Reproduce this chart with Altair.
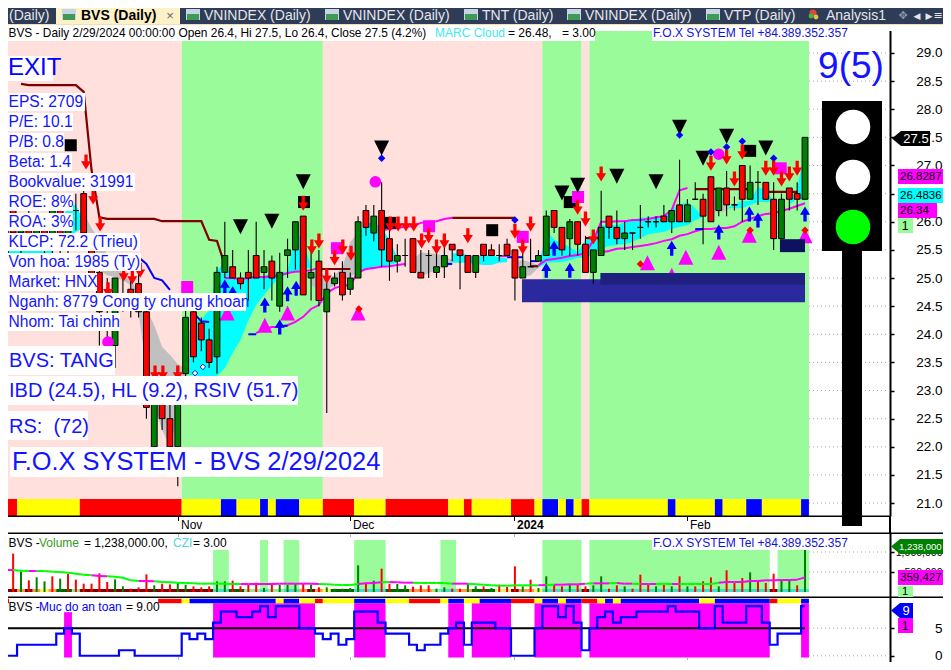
import altair as alt
import pandas as pd

# ---------------- values ----------------
opens  = [25.4,26.4,25.8,26.0,25.6,25.9,25.5,26.3,25.5,26.2,26.5,25.7,25.1,24.2,23.8,24.6,24.8,24.9,24.4,22.0,23.0,22.5,22.0,23.3,24.4,24.2,23.9,23.6,25.1,25.2,25.0,25.1,25.4,25.1,25.3,24.5,25.4,25.5,26.1,25.0,25.3,24.4,24.9,25.1,24.8,25.0,26.2,25.8,26.2,25.7,25.3,25.4,25.7,25.1,25.4,25.1,25.2,25.6,25.5,25.4,25.1,25.6,25.5,25.4,25.6,25.5,25.0,25.2,25.3,25.4,26.2,25.9,25.7,26.0,25.6,25.1,25.4,26.1,25.9,25.7,25.8,25.9,26.0,26.0,26.1,26.0,26.3,26.0,26.4,26.4,26.8,26.2,26.6,26.3,27.0,26.4,26.7,26.7,26.4,25.7,26.6,26.5,26.4]
highs  = [26.0,26.5,26.1,26.2,26.1,26.0,26.5,26.4,26.0,26.5,26.6,25.8,25.2,25.0,25.0,25.0,25.0,25.2,24.5,23.0,23.1,22.8,23.3,24.5,24.5,24.3,24.1,25.2,26.0,25.5,25.1,25.5,26.0,25.5,25.4,25.45,25.7,26.0,26.1,25.6,25.5,25.15,25.1,25.3,25.1,26.1,26.3,26.3,26.7,26.0,25.6,25.7,25.7,25.5,25.5,25.45,25.6,25.6,25.5,25.4,25.4,25.6,25.6,25.6,25.7,25.5,25.45,25.7,25.5,26.2,26.2,25.9,26.05,26.0,25.75,25.5,26.55,26.1,26.2,26.0,25.8,26.3,26.1,26.1,26.3,26.2,27.1,26.4,26.7,26.5,26.8,26.6,26.9,26.45,27.0,27.0,26.9,26.7,26.7,26.5,26.6,26.7,27.5]
lows   = [25.3,25.7,25.4,25.5,25.5,25.4,25.4,25.4,25.3,25.85,25.7,24.9,23.8,23.7,23.4,24.4,24.3,24.3,22.5,21.9,22.3,22.0,21.3,23.2,23.5,23.7,23.4,23.3,25.0,25.0,24.8,24.6,25.0,24.8,24.6,24.4,25.0,25.15,24.7,24.6,24.5,22.6,24.85,24.6,24.7,25.0,25.75,25.65,25.2,24.95,25.1,25.2,25.1,25.0,25.0,25.0,25.0,25.3,24.8,25.1,25.0,25.3,25.4,25.3,25.4,24.6,25.0,25.2,25.3,25.4,25.8,25.4,25.4,25.4,25.1,24.9,25.4,25.7,25.6,25.5,25.5,25.7,25.9,25.9,26.0,25.8,26.0,26.0,26.4,25.6,26.0,26.1,26.1,26.2,26.0,26.4,26.3,26.4,25.5,25.7,26.2,26.2,26.4]
closes = [25.9,25.8,26.0,25.6,25.9,25.5,26.4,25.5,25.9,26.2,25.8,25.0,24.4,24.2,25.0,24.6,24.6,24.4,22.7,22.9,22.5,22.0,23.0,24.3,23.6,23.9,23.5,25.1,25.4,25.0,24.9,25.0,25.0,25.2,25.0,25.1,25.5,26.0,24.7,25.1,24.6,24.8,25.0,24.7,25.0,26.0,25.9,26.1,25.5,25.3,25.4,25.4,25.1,25.0,25.4,25.2,25.4,25.5,25.4,25.1,25.4,25.4,25.4,25.4,25.4,25.0,25.2,25.2,25.4,26.1,25.9,25.5,26.0,25.6,25.1,25.5,25.9,25.9,25.7,25.8,25.8,25.9,26.0,26.0,26.0,26.2,26.0,26.3,26.4,26.1,26.0,26.6,26.3,26.3,26.4,26.7,26.7,26.4,25.7,26.4,26.4,26.4,27.5]

stop_runs = [
    (2,[28.45,28.43,28.43,28.43,28.43,28.43,28.43,28.43,28.31,26.92,26.08,26.05,26.05,26.05,26.05,26.05,26.05,26.05,26.01,26.01,26.01,26.01,26.01,26.01,25.68,25.66,25.23]),
    (40,[25.16,25.16,25.16,25.16,25.16]),
    (57,[26.07]*9),
    (67,[25.21,25.21]),
    (74,[25.71,25.71,25.71]),
    (88,[26.58]*8),
    (97,[26.53]*5),
]
magenta_runs = [
    (32,[24.02,24.09,24.13,24.13,24.16,24.22,24.31,24.45,24.52,24.73,24.82,24.86,24.88,25.1,25.16,25.18,25.2,25.21,25.23,25.25]),
    (28,[25.0,25.0,24.98,25.0,25.02,25.02,25.03,25.05,25.09,25.11,25.12,25.14,25.18]),
    (48,[25.85,25.87,25.89,25.91,25.92,25.98,26.0,26.01,26.05,26.07]),
    (63,[25.39,25.39]),
    (68,[25.23,25.32,25.34,25.36,25.39,25.41,25.44,25.67,26.0,26.0,26.01,26.01,26.03,26.03,26.05,26.08,26.1,26.21,26.56,26.6]),
    (76,[25.46,25.48,25.52,25.53,25.55,25.57,25.59,25.62,25.66,25.69,25.75,25.78,25.83,25.87,25.87,25.89,25.89,25.92,26.0,26.05,26.1,26.14,26.15,26.19,26.23,26.28,26.33]),
]
blue_runs = [
    (17,[25.37,25.25,25.0,24.96,24.79]),
    (24,[24.38,24.23,24.22]),
    (31,[24.0,24.0]),
    (35,[24.15,24.15]),
    (56,[25.25,25.25]),
    (64,[25.37,25.37,25.37]),
    (67,[25.3,25.3]),
    (88,[25.87,25.87]),
]
CY, GR = "#00ffff", "#c0c0c0"
cloud_groups = [
    (CY,0,[25.5,25.53,25.53,25.53,25.53,25.53,25.53,25.94,26.3,26.3,26.0],[25.43,25.43,25.43,25.43,25.43,25.43,25.43,25.71,25.71,25.82,25.9]),
    (GR,10,[26.15,25.89,25.68,25.41,25.23,25.1,24.96,24.75,24.46,24.16,23.78,23.63,23.47,23.38],[25.94,25.68,25.14,25.05,25.02,24.96,24.87,24.39,23.36,22.74,22.3,22.0,22.56,23.33]),
    (CY,23,[23.9,24.25,24.25,24.43,25.14,25.27,25.0,24.98,25.0,25.02,25.03,25.09,25.09,25.11,25.8,25.68,25.18],[23.29,23.27,23.24,23.24,23.26,23.4,23.67,23.9,24.25,24.52,24.7,24.87,25.0,25.07,25.11,25.18,25.18]),
    (GR,39,[25.03,25.03,24.96,25.05,25.19,25.64,25.8],[24.87,24.79,24.79,24.87,24.96,25.02,25.1]),
    (CY,45,[25.8,25.98,25.98,25.9,25.68,25.36],[25.14,25.14,25.18,25.2,25.23,25.27]),
    (GR,52,[25.32,25.46,25.44,25.43,25.39,25.32],[25.23,25.02,25.09,25.14,25.19,25.23]),
    (CY,57,[25.44,25.44,25.41,25.37,25.41,25.41,25.37,25.35],[25.27,25.27,25.27,25.25,25.23,25.23,25.27,25.28]),
    (GR,65,[25.3,25.32,25.28,25.23],[25.3,25.02,25.05,25.18]),
    (CY,68,[25.18,25.85,25.68,25.62,25.55,25.46,25.68,25.73,25.94,25.94,25.94,25.99,26.03,26.07,26.08,26.08,26.08,26.24,26.3,26.35,26.24,26.07],[25.18,25.27,25.28,25.28,25.32,25.36,25.36,25.42,25.53,25.57,25.59,25.6,25.64,25.71,25.78,25.8,25.82,25.87,25.91,25.94,26.03,26.08]),
    (GR,90,[26.39,26.56,26.39],[26.21,26.15,26.21]),
    (CY,92,[26.24,26.3,26.37,26.37,26.62,26.56,26.37],[26.24,26.24,26.24,26.3,26.35,26.35,26.35]),
    (CY,100,[26.35,26.58,27.3],[26.3,26.42,26.38]),
]
bg_starts = [0,23,41,69,74,75,103]
bg_colors = ["#ffe0dc","#99fb99","#ffe0dc","#99fb99","#ffe0dc","#99fb99"]
strip_starts = [0,2,10,23,28,30,33,34,35,38,41,45,49,57,59,60,65,68,69,71,72,73,74,75,85,86,91,92,95,97,102,103]
strip_colors = "r y r y b y b y b y r y r y r y r y b y b y r y b y b y b y b".split()
safe_strip_starts = [0,1,20,23,24,35,36,38,40,41,45,49,52,56,57,59,61,65,68,69,71,72,74,76,77,78,79,89,91,98,99,102,103]
safe_strip_colors = "r w r y b y b y r y b y r y b y b r y b y b r y b y b y b r y b".split()

tri_down = [(30,25.91),(34,26.01),(38,26.71),(48,27.31),(71,26.51),(73,26.65),(78,26.81),(83,26.71),(86,27.68),(89,27.13),(92,27.52),(97,27.31)]
sq_black = [(8.35,27.36),(38.1,26.35),(72,26.35),(95,27.26),(62.1,25.85),(49.1,25.98)]
sq_mag = [(54.05,25.92),(42.3,25.53),(73.05,26.44),(98.9,26.95),(66,25.73),(23.2,24.84)]
circ_mag = [(47.2,26.71),(91,27.2),(13.1,23.86)]
dia_blue = [(48,27.13),(65,26.03),(86,27.54),(90,27.24),(92,27.33),(94,27.43),(98,27.13)]
dia_red = [(95,25.85),(102,25.85),(81,25.25),(45.1,24.45)]
tri_up = [(33.1,24.16),(36,24.38),(45,24.38),(94.9,25.76),(102,25.75),(91,25.46),(86.8,25.37),(81.9,25.27),(85,25.05),(76.9,24.96),(28.3,24.38)]
arrows_down = [(10.3,27.06),(11.2,26.44),(12.1,25.96),(13.1,24.79),(15.1,25.07),(16.2,25.02),(17.2,25.14),(19.1,23.31),(20.1,23.31),(22,23.31),(38,26.33),(39.1,25.55),(40,25.66),(41,25.03),(42,25.36),(43.05,25.55),(44.1,25.44),(49.1,25.96),(50.1,25.96),(51.1,25.96),(52.1,25.96),(53.1,25.66),(54,25.75),(55,25.55),(56,25.66),(59,25.75),(65,25.83),(67,25.96),(66,25.55),(73,26.26),(74,26.05),(75,25.73),(76,26.85),(90,27.04),(92,27.15),(93,26.76),(94,27.24),(97,26.95),(98,26.95),(99,26.76),(100,26.85),(101,26.95)]
arrows_up = [(28,24.84),(29,24.72),(33.1,24.52),(35,24.13),(36,24.72),(37.1,24.82),(69,25.14),(72,25.14),(70,25.53),(85,25.53),(91,25.82),(94.9,26.14),(96,26.03),(102,26.14)]
hollow = [(24.2,23.31),(25.2,23.42)]
zones = [(65.9,102,24.98,24.57,"#2a2a9e"),(75.9,102,25.09,24.88,"#20207f"),(98.8,102,25.69,25.46,"#0e1060")]

volumes = [442,1130,609,344,432,314,462,393,531,364,246,246,550,295,373,167,98,138,521,197,246,226,265,216,167,138,167,314,314,334,167,216,275,118,246,216,216,246,246,216,138,138,98,98,118,786,275,334,688,246,236,197,157,197,197,98,138,98,98,236,167,167,118,216,147,757,167,364,118,462,216,167,216,216,167,197,462,98,197,167,98,511,216,167,216,167,462,167,167,314,432,167,639,265,413,580,314,265,540,364,364,197,1238]
vol_dirs = "g r g r g g r g r r r r r r g g r r r g r r g g r r r g g r r r r g r g g g r g r g g g g g r g r r g g r r r g g r r g g r g r r r g r g g r r g r r g g r r g r r r g r g r g r r r g r r r g r r r g g r g".split()
vol_ma = [648,648,629,619,619,619,599,590,570,540,511,491,472,462,452,422,344,324,324,314,295,285,275,265,255,246,246,246,246,236,236,236,236,236,236,246,246,246,246,246,236,226,216,206,206,236,255,265,285,295,285,275,275,265,265,265,265,246,246,246,226,216,197,187,187,197,197,197,197,206,216,216,226,226,246,255,255,255,265,246,246,236,236,236,246,236,236,236,236,236,236,275,295,295,295,324,324,344,344,354,354,364,432]
vol_ma_magenta = [0,3,11,12,17,18,30,31,32,33,34,35,36,37,38,39,45,46,47,49,50,51,57,58,68,70,71,72,73,75,76,78,79,81,82,85,91,92,93,94,95,96,97,98,99,100,101,102]
vol_green = [(27,29,1238),(33,34,1533),(36,38,1533),(45,49,1533),(56,58,1533),(69,74,1533),(75,98,1533),(99,103,1238)]
czi_starts = [0,2,3,4,5,6,7,9,10,27,29,31,33,34,36,38,39,40,41,42,45,49,52,55,56,58,60,63,65,66,68,69,74,75,98,99,103]
czi_colors = "dr or dr or ye or dg lg dr tq dg lg tq lg tq or dr or ye dg tq dg or lg tq or dg ly dr or ye tq dr tq dr tq".split()

safety = [0,0,2,2,2,2,2,4,5,4,0,0,0,0,0,1,1,0,0,0,0,0,0,4,3,4,3,6,8,8,7,7,8,9,7,9,9,9,5,5,4,3,4,2,3,8,8,8,6,4,4,4,2,1,2,2,4,5,6,2,6,6,6,5,5,0,0,0,5,9,9,7,9,6,1,5,7,8,6,7,7,8,8,8,8,9,8,8,8,5,5,9,6,6,6,9,9,6,2,4,4,4,9]
safe_bands = [(8,9,7.9),(27,40,9.5),(45,49,9.5),(57,59,9.5),(60,65,9.5),(68,74,9.5),(75,98,9.5),(102,103,9.5)]

price_ticks = [21.0,21.5,22.0,22.5,23.0,23.5,24.0,24.5,25.0,25.5,26.0,26.5,27.0,27.5,28.0,28.5,29.0]
vol_ticks = [500000,1000000]
safe_ticks = [0,5]
month_ticks = [(178,"Nov","normal"),(350,"Dec","normal"),(514,"2024","bold"),(687,"Feb","normal")]
tabs = [(204,"VNINDEX (Daily)"),(343,"VNINDEX (Daily)"),(482,"TNT (Daily)"),(585,"VNINDEX (Daily)"),(724,"VTP (Daily)"),(826,"Analysis1")]
info_lines = [("EPS: 2709",85),("P/E: 10.1",73),("P/B: 0.8",64),("Beta: 1.4",72),("Bookvalue: 31991",135),("ROE: 8%",73),("ROA: 3%",73),("KLCP: 72.2 (Trieu)",140),("Von hoa: 1985 (Ty)",141),("Market: HNX",97),("Nganh: 8779 Cong ty chung khoan",246),("Nhom: Tai chinh",120)]

# ---------------- layout ----------------
W, H = 935, 654
FONT = "Liberation Sans"
ONE = pd.DataFrame({"k": [0]})
RGB = {"r":"#ff0000","y":"#ffff00","b":"#0000ff","w":"#ffffff"}
CZ = {"dr":"#800000","or":"#ff9a40","ye":"#ffff40","dg":"#006400","lg":"#90ee90","tq":"#40e0d0","ly":"#e8f070"}

XS = alt.Scale(domain=[0.345, 119.6], nice=False, zero=False)
MAIN = alt.Scale(domain=[20.77, 29.515], range=[508, 16], nice=False, zero=False)
VOL = alt.Scale(domain=[-147, 1739], range=[589, 525], nice=False, zero=False)
VOLAX = alt.Scale(domain=[-125000, 1475000], range=[589, 525], nice=False, zero=False)
SAFE = alt.Scale(domain=[-1.129, 10.645], range=[654, 589], nice=False, zero=False)

X = lambda f="i": alt.X(f"{f}:Q", scale=XS, axis=None)
X2 = lambda f="i2": alt.X2(f)
Ys = lambda s, f="y": alt.Y(f"{f}:Q", scale=s, axis=None)
Y2 = lambda f="y2": alt.Y2(f)
IDC = alt.Color("c:N", scale=None, legend=None)

def box(x1, y1, x2, y2, c, **kw):
    return alt.Chart(ONE).mark_rect(color=c, **kw).encode(x=alt.value(x1-8), x2=alt.value(x2-8), y=alt.value(y1-8), y2=alt.value(y2-8))

def txt(s, x, y, size=12, color="black", align="left", weight="normal", font=FONT):
    return alt.Chart(ONE).mark_text(fontSize=size, color=color, align=align, baseline="middle", fontWeight=weight, font=font).encode(x=alt.value(x-8), y=alt.value(y-8), text=alt.value(s))

def dot(x, y, size, c, shape="circle"):
    return alt.Chart(ONE).mark_point(shape=shape, filled=True, size=size, color=c, opacity=1).encode(x=alt.value(x-8), y=alt.value(y-8))

def runs_df(runs):
    rows = []
    for g, (start, vals) in enumerate(runs):
        for k, v in enumerate(vals):
            rows.append({"i": start+k, "y": v, "g": g})
    return pd.DataFrame(rows)

def line(runs, color, width=2):
    return alt.Chart(runs_df(runs)).mark_line(color=color, strokeWidth=width, interpolate="linear").encode(x=X(), y=Ys(MAIN), detail="g:N")

def pts(data, path_or_shape, size, color, **kw):
    df = pd.DataFrame(data, columns=["i", "y"])
    return alt.Chart(df).mark_point(shape=path_or_shape, filled=True, size=size, color=color, opacity=1, **kw).encode(x=X(), y=Ys(MAIN))

TRI_DOWN = "M-1,-1 L1,-1 L0,1 Z"
TRI_UP = "M-1,1 L1,1 L0,-1 Z"
ARROW_DOWN = "M-0.22,-1 L0.22,-1 L0.22,-0.1 L0.67,-0.1 L0,1 L-0.67,-0.1 L-0.22,-0.1 Z"
ARROW_UP = "M-0.22,1 L0.22,1 L0.22,0.1 L0.67,0.1 L0,-1 L-0.67,0.1 L-0.22,0.1 Z"
SQUARE = "M-1,-1 L1,-1 L1,1 L-1,1 Z"
FLAG = "M-0.6,0 L0.6,-1 L0.6,1 Z"

def seg_df(starts, colors, mapping=None):
    return pd.DataFrame({"i": [s-0.5 for s in starts[:-1]], "i2": [s-0.5 for s in starts[1:]],
                         "c": [mapping[c] if mapping else c for c in colors]})

def axis_layer(values, scale, fmt, fsize=13.5):
    return alt.Chart(pd.DataFrame({"y": values})).mark_tick(opacity=0).encode(
        y=alt.Y("y:Q", scale=scale, axis=alt.Axis(orient="right", offset=-53, values=values, format=fmt, title=None, grid=False,
            tickSize=4, tickColor="black", tickWidth=1.5, domainColor="black", domainWidth=2, labelPadding=48, labelAlign="right",
            labelFont=FONT, labelFontSize=fsize, labelColor="black", labelOverlap=False, labelFlush=False, labelBound=False)))

# ---- main panel ----
bg = seg_df(bg_starts, bg_colors).assign(y=29.39, y2=21.07)
strip = seg_df(strip_starts, strip_colors, RGB).assign(y=21.07, y2=20.77)
rect = lambda df, s: alt.Chart(df).mark_rect().encode(x=X(), x2=X2(), y=Ys(s), y2=Y2(), color=IDC)

cloud_rows = []
for g, (c, start, tops, bots) in enumerate(cloud_groups):
    for k, (a, b) in enumerate(zip(tops, bots)):
        cloud_rows.append({"i": start+k, "y": a, "y2": b, "c": c, "g": g})
cloud = alt.Chart(pd.DataFrame(cloud_rows)).mark_area(opacity=1).encode(x=X(), y=Ys(MAIN), y2=Y2(), color=IDC, detail="g:N")

zone_df = pd.DataFrame(zones, columns=["i", "i2", "y", "y2", "c"])
grid_df = pd.DataFrame({"y": price_ticks})

def dotted(df, scale):
    return alt.Chart(df).mark_rule(color="#a8a8a8", strokeDash=[1, 3], strokeWidth=1).encode(x=alt.value(801), x2=alt.value(882), y=Ys(scale))

candles = pd.DataFrame({"i": range(len(opens)), "o": opens, "h": highs, "l": lows, "cl": closes})
candles["a"] = candles.i - 0.37
candles["b"] = candles.i + 0.37
candles["c"] = ["#008000" if c > o else "#ff0000" for o, c in zip(opens, closes)]
wicks = alt.Chart(candles).mark_rule(color="black", strokeWidth=1.1).encode(x=X(), y=Ys(MAIN, "l"), y2=Y2("h"))
bodies = alt.Chart(candles).mark_rect(stroke="black", strokeWidth=1).encode(x=X("a"), x2=X2("b"), y=Ys(MAIN, "o"), y2=Y2("cl"), color=IDC)

hollow_layer = pts(hollow, "diamond", 30, "white", stroke="#0000ff", strokeWidth=1)

main_layer = alt.layer(
    rect(bg, MAIN), rect(strip, MAIN), dotted(grid_df, MAIN), cloud,
    pts(tri_up, TRI_UP, 225, "#ff00ff"),
    rect(zone_df, MAIN),
    line(stop_runs, "#800000", 2.2), line(magenta_runs, "#ff00ff", 2), line(blue_runs, "#0000ff", 2),
    wicks, bodies,
    pts(sq_black, SQUARE, 144, "black"), pts(sq_mag, SQUARE, 144, "#ff00ff"),
    pts(circ_mag, "circle", 135, "#ff00ff"), pts(tri_down, TRI_DOWN, 225, "black"),
    pts(dia_blue, "diamond", 55, "#0000ff"), pts(dia_red, "diamond", 55, "#ff0000"),
    pts(arrows_down, ARROW_DOWN, 225, "#ff0000"), pts(arrows_up, ARROW_UP, 225, "#0000ff"),
    hollow_layer,
)

# ---- volume panel ----
vg = pd.DataFrame(vol_green, columns=["a", "b", "y"])
vg["i"] = vg.a - 0.5; vg["i2"] = vg.b - 0.5; vg["y2"] = 0; vg["c"] = "#99fb99"
czi = seg_df(czi_starts, czi_colors, CZ).assign(y=0, y2=88)
vb = pd.DataFrame({"i": range(len(volumes)), "y": volumes, "y2": 0,
                   "c": ["#ff0000" if d == "r" else "#008000" for d in vol_dirs]})
ma_rows = [{"i": k, "i2": k+1, "y": vol_ma[k], "y2": vol_ma[k+1], "c": "#ff00ff" if k in vol_ma_magenta else "#00ff00"} for k in range(len(vol_ma)-1)]
vol_layer = alt.layer(
    rect(vg, VOL), rect(czi, VOL),
    alt.Chart(vb).mark_rule(strokeWidth=2).encode(x=X(), y=Ys(VOL), y2=Y2(), color=IDC),
    alt.Chart(pd.DataFrame(ma_rows)).mark_rule(strokeWidth=2).encode(x=X(), x2=X2(), y=Ys(VOL), y2=Y2(), color=IDC),
)
vol_grid = pd.DataFrame({"y": vol_ticks})

# ---- safety panel ----
sb = pd.DataFrame(safe_bands, columns=["a", "b", "y"])
sb["i"] = sb.a - 0.5; sb["i2"] = sb.b - 0.5; sb["y2"] = -0.32; sb["c"] = "#ff00ff"
ss = seg_df(safe_strip_starts, safe_strip_colors, RGB).assign(y=10.32, y2=9.52)
sl = pd.DataFrame({"i": range(len(safety)), "y": safety})
five = pd.DataFrame({"i": [0.3], "i2": [102], "y": [5]})
safe_grid = pd.DataFrame({"y": safe_ticks})
safe_layer = alt.layer(
    rect(sb, SAFE), rect(ss, SAFE), dotted(safe_grid, SAFE),
    alt.Chart(five).mark_rule(color="black", strokeWidth=2).encode(x=X(), x2=X2(), y=Ys(SAFE)),
    alt.Chart(sl).mark_line(color="#0000ff", strokeWidth=2.2, interpolate="step").encode(x=X(), y=Ys(SAFE)),
)

# ---- overlays in screen layout ----
over = []
# tab strip
over += [box(0, 0, 951, 24, "#2f3c57"), box(56, 1, 180, 24, "#fdf1c8"), box(0, 24, 951, 25, "#f3dfb0")]
TABY = 16
over.append(txt("(Daily)", 9, TABY, 14, "#e4e6ea"))
for ix in [62, 186, 325, 464, 567, 706]:
    over += [box(ix, 9, ix+14, 20, "#c6d4e6"), box(ix+1, 14, ix+13, 20, "#3f9a55")]
over.append(txt("BVS (Daily)", 81, TABY, 14, "black", weight="bold"))
over.append(txt("×", 170, TABY, 13, "#666666", "center"))
for tx, label in tabs:
    over.append(txt(label, tx, TABY, 14, "#e4e6ea"))
over += [dot(813, 13, 50, "#d94a30"), dot(811, 16, 24, "#45b34a"), dot(816, 17, 24, "#e8c040")]
over += [txt("✥", 903, 16, 11, "#8d96a8", "center", font="DejaVu Sans"), txt("◀", 917, 16, 9, "#e4e6ea", "center", font="DejaVu Sans"),
         txt("▶", 929, 16, 9, "#e4e6ea", "center", font="DejaVu Sans"), txt("≡", 938, 16, 11, "#e4e6ea", "center", font="DejaVu Sans")]
# header of the main panel
over += [box(5, 25, 595, 41, "white"), box(596, 25, 895, 31, "white"), box(652, 28, 847, 41, "white")]
over.append(txt("BVS - Daily 2/29/2024 00:00:00 Open 26.4, Hi 27.5, Lo 26.4, Close 27.5 (4.2%)", 8.5, 33, 11.9))
over.append(txt("MARC Cloud", 435, 33, 12, "#40e8f0"))
over.append(txt("= 26.48,", 508, 33, 12))
over.append(txt("= 3.00", 562, 33, 12))
over.append(txt("F.O.X SYSTEM Tel +84.389.352.357", 653, 33, 12, "#1010e0"))
# left info boxes
over += [box(3, 56, 53, 81, "white"), txt("EXIT", 8, 68, 24, "#0000ff")]
for k, (s, right) in enumerate(info_lines):
    yc = 102 + 20*k
    over += [box(6, yc-9, right, yc+9, "white"), txt(s, 8.5, yc, 15.6, "#1414ff")]
over += [box(8, 346, 115, 375, "white"), txt("BVS: TANG", 9, 361, 20, "#1414ff")]
over += [box(8, 376, 298, 405, "white"), txt("IBD (24.5), HL (9.2), RSIV (51.7)", 9, 391, 20, "#1414ff")]
over += [box(8, 411, 88, 440, "white"), txt("RS:\u00a0\u00a0(72)", 9, 427, 20, "#1414ff")]
over += [box(10, 447, 383, 477, "white"), txt("F.O.X SYSTEM - BVS 2/29/2024", 12, 462, 25.4, "#1414ff")]
over.append(txt("9(5)", 851, 67, 37, "#1414ff", "center"))
# traffic light
over += [box(822, 101, 882, 251, "black"), box(842, 251, 862, 526, "black")]
over += [dot(853, 127, 1200, "white"), dot(853, 177, 1200, "white"), dot(853, 227, 1200, "#00ff00")]
# separators and date ticks
over += [box(3, 515.5, 890, 517, "black"), box(889, 516, 891, 533, "black"), box(3, 532.5, 951, 534, "black"), box(3, 596.5, 951, 598, "black")]
for mx, label, wt in month_ticks:
    over += [box(mx, 516, mx+1, 521, "black"), txt(label, mx+3, 525, 12, "black", weight=wt)]
    over += [box(mx, 534, mx+1, 537, "#b0b0b0"), box(mx, 657, mx+1, 660, "#b0b0b0")]
# volume and safety titles
over += [txt("BVS -", 8.5, 543, 12), txt("Volume", 39, 543, 12, "#3a9a20"), txt("= 1,238,000.00,", 84, 543, 12),
         txt("CZI", 173, 543, 12, "#50d8d8"), txt("= 3.00", 193, 543, 12)]
over += [box(652, 534, 847, 550, "white"), txt("F.O.X SYSTEM Tel +84.389.352.357", 653, 543, 12, "#1010e0")]
over += [box(5, 604, 158, 612, "white"), txt("BVS -", 8.5, 607, 12), txt("Muc do an toan", 39, 607, 12, "#0000ff"), txt("= 9.00", 126, 607, 12)]
# value flags
over += [dot(896.5, 138.5, 225, "black", FLAG), box(901, 131, 930, 146, "black"), txt("27.5", 916, 139, 13, "white", "center")]
over += [box(898, 169, 951, 184, "#ff00ff"), txt("26.8287", 900, 177, 11.5)]
over += [box(898, 188, 951, 203, "#00ffff"), txt("26.4836", 900, 196, 11.5)]
over += [box(898, 203, 937, 218, "#ff00ff"), txt("26.34", 900, 211, 11.5)]
over += [box(898, 218, 913, 233, "#99fb99"), txt("1", 905, 226, 12, align="center")]
over += [dot(895.5, 546.5, 225, "#008000", FLAG), box(900, 539, 951, 554, "#008000"), txt("1,238,000", 899, 547, 9.6, "white")]
over += [box(898, 570, 951, 585, "#ff00ff"), txt("359,427", 900, 578, 11.5)]
over += [box(898, 586, 913, 597, "#99fb99"), txt("1", 905, 592, 11, align="center")]
over += [dot(895.5, 610.5, 225, "#0000ff", FLAG), box(900, 603, 913, 618, "#0000ff"), txt("9", 906, 611, 13, "white", "center")]
over += [box(898, 618, 913, 633, "#ff00ff"), txt("1", 905, 626, 12, align="center")]

chart = alt.layer(
    axis_layer(price_ticks, MAIN, ".1f"), axis_layer(vol_ticks, VOLAX, ",d", 10.5), axis_layer(safe_ticks, SAFE, "d"),
    main_layer, vol_layer, dotted(vol_grid, VOLAX), safe_layer, *over
).resolve_scale(y="independent").properties(
    width=W, height=H, autosize=alt.AutoSizeParams(type="none"), padding=0, background="white"
).configure_view(stroke=None)

chart.save("out.html", embed_options={"renderer": "svg", "actions": False})
